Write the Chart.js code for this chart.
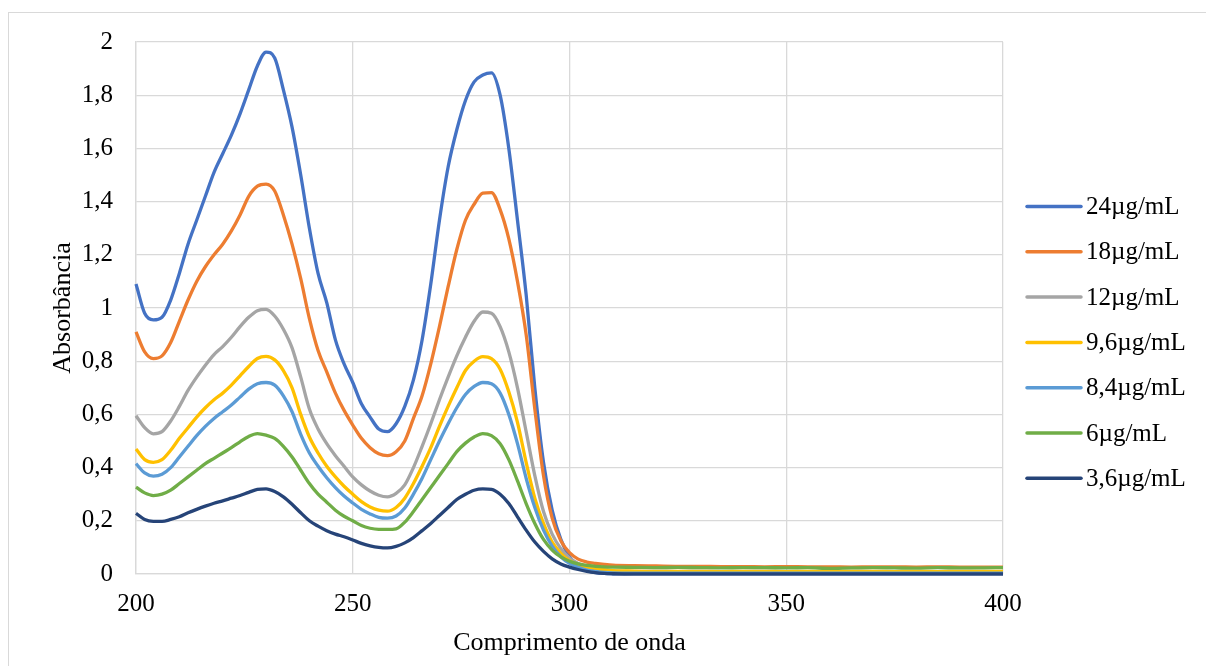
<!DOCTYPE html>
<html>
<head>
<meta charset="utf-8">
<script src="https://cdn.jsdelivr.net/npm/chart.js@4"></script>
<style>
    html, body { margin: 0; padding: 0; background: #fff; }
    #wrap { position: relative; width: 1206px; height: 666px; overflow: hidden; }
    #frame {
        position: absolute; left: 8px; top: 12px;
        width: 1400px; height: 800px;
        border: 1px solid #d9d9d9;
    }
    #spectra { position: absolute; left: 0; top: 0; }
</style>
</head>
<body>
<div id="wrap">
    <div id="frame"></div>
    <canvas id="spectra" width="1206" height="666"></canvas>
</div>
<script>
// wavelength (nm): 2 nm steps over the bands, 5 nm steps over the flat tail
const wavelengths = [
    200, 202, 204, 206, 208, 210, 212, 214, 216, 218, 220, 222, 224, 226, 228, 230, 232, 234, 236, 238,
    240, 242, 244, 246, 248, 250, 252, 254, 256, 258, 260, 262, 264, 266, 268, 270, 272, 274, 276, 278,
    280, 282, 284, 286, 288, 290, 292, 294, 296, 298, 300, 302, 304, 306, 308, 310,
    315, 320, 325, 330, 335, 340, 345, 350, 355, 360, 365, 370, 375, 380, 385, 390, 395, 400
];

const seriesLabels = ['24µg/mL', '18µg/mL', '12µg/mL', '9,6µg/mL', '8,4µg/mL', '6µg/mL', '3,6µg/mL'];
const seriesColors = ['#4472C4', '#ED7D31', '#A5A5A5', '#FFC000', '#5B9BD5', '#70AD47', '#264478'];

const abs24 = [
    1.09, 0.98, 0.955, 0.965, 1.03, 1.13, 1.24, 1.33, 1.42, 1.51, 1.58, 1.65, 1.73, 1.82, 1.91, 1.962, 1.94, 1.82, 1.68, 1.50,
    1.30, 1.13, 1.02, 0.88, 0.79, 0.72, 0.64, 0.59, 0.545, 0.535, 0.565, 0.63, 0.73, 0.88, 1.09, 1.33, 1.53, 1.67, 1.78, 1.85,
    1.876, 1.884, 1.80, 1.60, 1.33, 1.05, 0.70, 0.42, 0.24, 0.13, 0.065, 0.03, 0.013, 0.005, 0.002, 0.001,
    0.002, 0.002, 0.002, 0.002, 0.002, 0.002, 0.002, 0.002, 0.002, 0.002, 0.002, 0.002, 0.002, 0.002, 0.002, 0.002, 0.002, 0.002
];
const abs18 = [
    0.91, 0.835, 0.81, 0.82, 0.87, 0.95, 1.03, 1.10, 1.155, 1.20, 1.24, 1.29, 1.35, 1.42, 1.458, 1.466, 1.44, 1.35, 1.24, 1.11,
    0.96, 0.84, 0.76, 0.68, 0.615, 0.56, 0.51, 0.475, 0.452, 0.445, 0.46, 0.50, 0.585, 0.67, 0.79, 0.93, 1.08, 1.22, 1.33, 1.39,
    1.432, 1.434, 1.37, 1.26, 1.10, 0.90, 0.62, 0.37, 0.21, 0.125, 0.08, 0.056, 0.045, 0.04, 0.036, 0.033,
    0.031, 0.03, 0.029, 0.029, 0.028, 0.028, 0.027, 0.028, 0.027, 0.027, 0.026, 0.027, 0.027, 0.026, 0.027, 0.026, 0.026, 0.026
];
const abs12 = [
    0.595, 0.55, 0.527, 0.535, 0.575, 0.63, 0.69, 0.74, 0.785, 0.825, 0.855, 0.89, 0.93, 0.965, 0.99, 0.995, 0.97, 0.92, 0.85, 0.74,
    0.62, 0.545, 0.49, 0.445, 0.405, 0.365, 0.335, 0.312, 0.296, 0.29, 0.303, 0.335, 0.40, 0.48, 0.565, 0.655, 0.74, 0.82, 0.89, 0.95,
    0.985, 0.98, 0.93, 0.835, 0.70, 0.535, 0.37, 0.235, 0.15, 0.095, 0.06, 0.04, 0.028, 0.02, 0.015, 0.012,
    0.01, 0.01, 0.009, 0.01, 0.009, 0.009, 0.01, 0.009, 0.009, 0.009, 0.01, 0.009, 0.009, 0.009, 0.009, 0.01, 0.009, 0.009
];
const abs96 = [
    0.47, 0.43, 0.42, 0.43, 0.465, 0.51, 0.55, 0.59, 0.625, 0.655, 0.68, 0.71, 0.745, 0.78, 0.81, 0.818, 0.805, 0.765, 0.70, 0.60,
    0.515, 0.455, 0.405, 0.365, 0.33, 0.30, 0.272, 0.252, 0.24, 0.236, 0.25, 0.285, 0.34, 0.405, 0.475, 0.555, 0.63, 0.70, 0.765, 0.80,
    0.817, 0.81, 0.77, 0.685, 0.57, 0.42, 0.285, 0.19, 0.12, 0.078, 0.05, 0.035, 0.026, 0.02, 0.016, 0.013,
    0.011, 0.01, 0.01, 0.01, 0.009, 0.01, 0.01, 0.009, 0.01, 0.009, 0.01, 0.01, 0.009, 0.01, 0.009, 0.01, 0.01, 0.01
];
const abs84 = [
    0.415, 0.38, 0.368, 0.375, 0.40, 0.44, 0.48, 0.52, 0.555, 0.585, 0.61, 0.635, 0.665, 0.695, 0.715, 0.72, 0.71, 0.67, 0.61, 0.525,
    0.455, 0.405, 0.362, 0.325, 0.293, 0.267, 0.243, 0.226, 0.213, 0.21, 0.218, 0.248, 0.30, 0.36, 0.43, 0.50, 0.565, 0.625, 0.675, 0.705,
    0.72, 0.715, 0.68, 0.60, 0.49, 0.36, 0.25, 0.165, 0.105, 0.065, 0.04, 0.025, 0.015, 0.01, 0.006, 0.004,
    0.003, 0.003, 0.003, 0.003, 0.003, 0.003, 0.003, 0.003, 0.003, 0.003, 0.003, 0.003, 0.003, 0.003, 0.003, 0.003, 0.003, 0.003
];
const abs6 = [
    0.327, 0.305, 0.295, 0.30, 0.315, 0.34, 0.365, 0.39, 0.415, 0.435, 0.455, 0.475, 0.497, 0.517, 0.528, 0.522, 0.51, 0.48, 0.44, 0.39,
    0.34, 0.30, 0.27, 0.24, 0.217, 0.20, 0.182, 0.172, 0.168, 0.168, 0.17, 0.195, 0.235, 0.28, 0.325, 0.37, 0.415, 0.46, 0.492, 0.515,
    0.528, 0.52, 0.49, 0.43, 0.35, 0.265, 0.19, 0.13, 0.09, 0.064, 0.048, 0.038, 0.032, 0.029, 0.027, 0.026,
    0.025, 0.024, 0.025, 0.024, 0.023, 0.024, 0.024, 0.023, 0.024, 0.021, 0.023, 0.024, 0.023, 0.022, 0.024, 0.023, 0.023, 0.024
];
const abs36 = [
    0.228, 0.205, 0.198, 0.198, 0.205, 0.215, 0.23, 0.243, 0.255, 0.266, 0.275, 0.285, 0.295, 0.307, 0.318, 0.32, 0.31, 0.29, 0.262, 0.23,
    0.20, 0.18, 0.163, 0.15, 0.14, 0.128, 0.115, 0.106, 0.10, 0.098, 0.104, 0.117, 0.137, 0.163, 0.19, 0.22, 0.25, 0.28, 0.30, 0.315,
    0.32, 0.318, 0.30, 0.265, 0.215, 0.165, 0.12, 0.085, 0.057, 0.038, 0.026, 0.017, 0.01, 0.005, 0.002, 0.001,
    0, 0, 0, 0, 0, 0, 0, 0, 0, 0, 0, 0, 0, 0, 0, 0, 0, 0
];

const seriesValues = [abs24, abs18, abs12, abs96, abs84, abs6, abs36];

const serif = 'Liberation Serif, Times New Roman, serif';
const gridColor = '#d9d9d9';

// legend drawn at the right side, one short line + label per series
const sideLegend = {
    id: 'sideLegend',
    afterDraw(chart, args, opts) {
        const ctx = chart.ctx;
        ctx.save();
        ctx.font = opts.fontSize + 'px ' + serif;
        ctx.textBaseline = 'middle';
        ctx.textAlign = 'left';
        chart.data.datasets.forEach((ds, i) => {
            const y = opts.top + i * opts.step;
            ctx.strokeStyle = ds.borderColor;
            ctx.lineWidth = 3.5;
            ctx.lineCap = 'round';
            ctx.beginPath();
            ctx.moveTo(opts.left, y);
            ctx.lineTo(opts.left + opts.lineLength, y);
            ctx.stroke();
            ctx.fillStyle = '#000';
            ctx.fillText(ds.label, opts.left + opts.lineLength + opts.gap, y + 1);
        });
        ctx.restore();
    }
};

const datasets = seriesLabels.map((label, i) => ({
    label: label,
    data: wavelengths.map((w, j) => ({ x: w, y: seriesValues[i][j] })),
    borderColor: seriesColors[i],
    backgroundColor: seriesColors[i],
    borderWidth: 3.3,
    pointRadius: 0,
    cubicInterpolationMode: 'monotone',
    clip: 6,
    order: seriesLabels.length - i
}));

const ctx = document.getElementById('spectra').getContext('2d');

new Chart(ctx, {
    type: 'line',
    data: { datasets: datasets },
    options: {
        responsive: false,
        animation: false,
        layout: { padding: { top: 42, right: 203, bottom: 0, left: 0 } },
        plugins: {
            legend: { display: false },
            tooltip: { enabled: false },
            sideLegend: { left: 1027, top: 206.5, step: 45.3, lineLength: 54, gap: 5, fontSize: 25 }
        },
        scales: {
            x: {
                type: 'linear',
                min: 200,
                max: 400,
                ticks: {
                    stepSize: 50,
                    padding: 15,
                    color: '#000',
                    font: { family: serif, size: 25 }
                },
                grid: { color: gridColor, lineWidth: 1.3, drawTicks: false },
                border: { color: gridColor, width: 1.3 },
                title: {
                    display: true,
                    text: 'Comprimento de onda',
                    color: '#000',
                    font: { family: serif, size: 26 },
                    padding: { top: 0, bottom: 7 }
                },
                afterFit: s => { s.height = 92; }
            },
            y: {
                min: 0,
                max: 2,
                ticks: {
                    stepSize: 0.2,
                    padding: 23,
                    color: '#000',
                    font: { family: serif, size: 25 },
                    callback: v => String(Math.round(v * 10) / 10).replace('.', ',')
                },
                grid: { color: gridColor, lineWidth: 1.3, drawTicks: false },
                border: { color: gridColor, width: 1.3 },
                title: {
                    display: true,
                    text: 'Absorbância',
                    color: '#000',
                    font: { family: serif, size: 26 },
                    padding: { top: 48, bottom: 0 }
                },
                afterFit: s => { s.width = 136; }
            }
        }
    },
    plugins: [sideLegend]
});
</script>
</body>
</html>
